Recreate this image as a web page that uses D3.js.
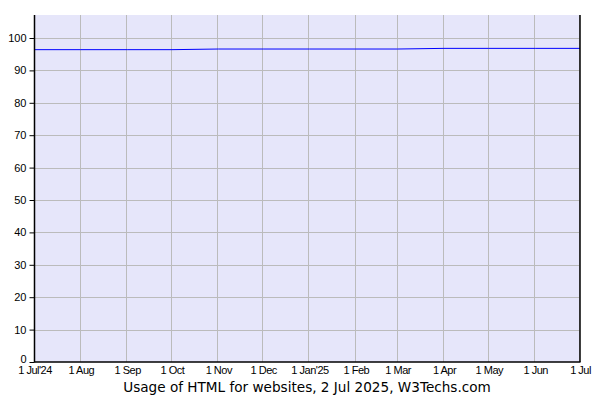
<!DOCTYPE html>
<html><head><meta charset="utf-8">
<script src="https://cdn.jsdelivr.net/npm/d3@7"></script>
<style>body{margin:0;background:#fff}</style>
</head><body>
<svg id="c" width="600" height="400"></svg>
<script>
const months = ["2024-07-01","2024-08-01","2024-09-01","2024-10-01","2024-11-01","2024-12-01","2025-01-01","2025-02-01","2025-03-01","2025-04-01","2025-05-01","2025-06-01","2025-07-01"];
const usage = [96.4,96.4,96.4,96.4,96.6,96.6,96.6,96.6,96.6,96.8,96.8,96.8,96.8];
const xTickLabels = ["1 Jul'24","1 Aug","1 Sep","1 Oct","1 Nov","1 Dec","1 Jan'25","1 Feb","1 Mar","1 Apr","1 May","1 Jun","1 Jul"];
const yTicks = [0,10,20,30,40,50,60,70,80,90,100];
const title = "Usage of HTML for websites, 2 Jul 2025, W3Techs.com";

const svg = d3.select("#c");
const parse = d3.utcParse("%Y-%m-%d");
const dates = months.map(parse);
const L = 34.5, R = 580, T = 15, B = 362;
const x = d3.scaleUtc().domain([dates[0], dates[dates.length-1]]).range([L, R]);
const y = d3.scaleLinear().domain([0, 107.1]).range([B, T]);

svg.append("rect").attr("x", L).attr("y", T).attr("width", R-L).attr("height", B-T).attr("fill", "#e6e6fa");

const g = svg.append("g");
g.selectAll("line.h").data(yTicks.filter(d=>d>0)).join("line")
  .attr("x1", L).attr("x2", R).attr("y1", d=>Math.round(y(d))+0.5).attr("y2", d=>Math.round(y(d))+0.5)
  .attr("stroke", "#bbbbbb").attr("stroke-width", 1);
g.selectAll("line.v").data(dates.slice(1)).join("line")
  .attr("x1", d=>Math.round(x(d))-0.5).attr("x2", d=>Math.round(x(d))-0.5).attr("y1", T).attr("y2", B)
  .attr("stroke", "#bbbbbb").attr("stroke-width", 1);

const line = d3.line().x((d,i)=>x(dates[i])).y(d=>y(d));
svg.append("path").datum(usage).attr("d", line).attr("fill","none").attr("stroke","#0000ff").attr("stroke-width",1);

// axes
const yAxis = d3.axisLeft(y).tickValues(yTicks).tickSize(5).tickPadding(3);
const ya = svg.append("g").attr("transform", `translate(${L},0)`).call(yAxis);
ya.select(".domain").remove();
ya.selectAll(".tick line").attr("stroke","#000");
ya.selectAll(".tick text").attr("font-family","Liberation Sans, Arial, sans-serif").attr("font-size",11).attr("fill","#000")
  .attr("dy", d => d === 0 ? "0.05em" : "0.32em");

const xAxis = d3.axisBottom(x).tickValues(dates).tickSize(0).tickPadding(4).tickFormat((d,i)=>xTickLabels[i]);
const xa = svg.append("g").attr("transform", `translate(0,${B})`).call(xAxis);
xa.select(".domain").remove();
xa.selectAll(".tick text").attr("font-family","Liberation Sans, Arial, sans-serif").attr("font-size",11).attr("letter-spacing","-0.5px").attr("fill","#000");

svg.append("line").attr("x1",L).attr("x2",L).attr("y1",T).attr("y2",B+0.5).attr("stroke","#000").attr("stroke-width",1.5);
svg.append("line").attr("x1",L).attr("x2",R+0.5).attr("y1",B).attr("y2",B).attr("stroke","#000").attr("stroke-width",1.5);
svg.append("line").attr("x1",R).attr("x2",R).attr("y1",T).attr("y2",B).attr("stroke","#000").attr("stroke-width",1.5);

svg.append("text").attr("x", 307).attr("y", 392).attr("text-anchor","middle")
  .attr("font-family","DejaVu Sans, Verdana, sans-serif").attr("font-size",13.6).attr("fill","#000").text(title);
</script>
</body></html>
